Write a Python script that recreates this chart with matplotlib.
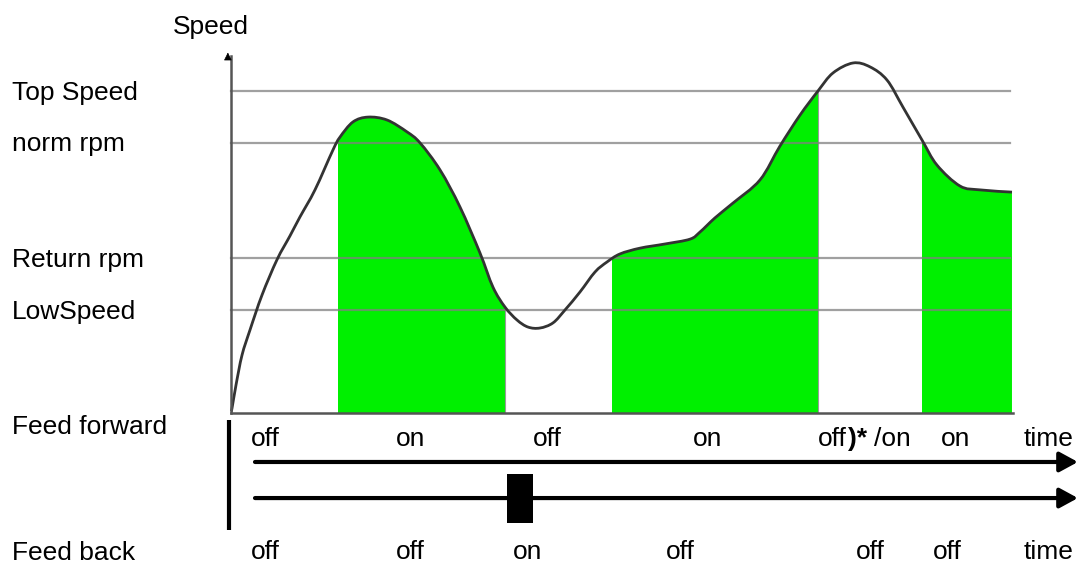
import numpy as np
import matplotlib
matplotlib.use("Agg")
import matplotlib.pyplot as plt
from matplotlib.patches import Rectangle, PathPatch
from matplotlib.path import Path

plt.rcParams['font.family'] = ['Liberation Sans', 'DejaVu Sans']

# speed levels (relative, Top Speed = 100)
level_names = ["Top Speed", "norm rpm", "Return rpm", "LowSpeed"]
level_values = [100.0, 83.9, 48.1, 32.0]

# speed curve (time 0..100)
curve_t = [0.0, 0.13, 0.64, 1.41, 2.43, 3.96, 5.88, 7.54, 8.82, 10.74, 13.04, 13.94,
           15.60, 17.52, 19.95, 22.51, 24.17, 26.73, 29.28, 31.84, 33.50, 35.04,
           36.57, 37.98, 39.51, 41.18, 42.71, 44.63, 46.55, 48.08, 49.74, 52.30,
           55.50, 58.70, 59.97, 61.89, 64.19, 67.65, 70.20, 72.76, 75.06, 76.98,
           79.54, 81.71, 83.89, 85.93, 88.36, 90.28, 93.22, 95.78, 99.87]
curve_v = [0.5, 1.5, 8.7, 18.0, 25.8, 36.6, 47.6, 55.0, 60.9, 69.3, 81.7, 85.7,
           90.4, 91.9, 91.0, 87.3, 83.9, 75.5, 64.0, 49.7, 39.1, 32.9,
           28.9, 26.7, 26.4, 28.0, 32.0, 37.6, 43.8, 46.9, 49.4, 51.2,
           52.5, 54.0, 56.2, 60.6, 65.2, 72.4, 82.9, 92.5, 100.0, 105.6,
           108.7, 107.5, 103.4, 95.0, 84.8, 77.0, 70.5, 69.3, 68.6]

# feed forward "on" intervals (green)
on_spans = [(13.7, 35.0), (48.7, 75.1), (88.4, 100.0)]

# state labels below the chart
ff_times = [4.35, 22.9, 40.5, 61.0, 92.6, 104.5]
ff_labels = ["off", "on", "off", "on", "on", "time"]
fb_times = [4.35, 22.9, 37.9, 57.4, 81.7, 91.6, 104.5]
fb_labels = ["off", "off", "on", "off", "off", "off", "time"]
fb_pulse = (35.3, 38.6)

fig = plt.figure(figsize=(10.8, 5.66), dpi=100)
ax = fig.add_axes([0, 0, 1, 1])
ax.set_xlim(-29.54, 108.57)
ax.set_ylim(-47.5, 128.26)
ax.axis('off')

# smooth path through the read points (Catmull-Rom as cubic Bezier segments)
pts = np.column_stack([curve_t, curve_v])
ext = np.vstack([pts[0], pts, pts[-1]])
verts = [tuple(pts[0])]
codes = [Path.MOVETO]
for i in range(1, len(ext) - 2):
    p0, p1, p2, p3 = ext[i - 1], ext[i], ext[i + 1], ext[i + 2]
    verts += [tuple(p1 + (p2 - p0) / 6), tuple(p2 - (p3 - p1) / 6), tuple(p2)]
    codes += [Path.CURVE4] * 3
curve_path = Path(verts, codes)

# area under the curve, clipped to the "on" spans
area_path = Path(verts + [(pts[-1][0], 0), (pts[0][0], 0), (pts[0][0], 0)],
                 codes + [Path.LINETO, Path.LINETO, Path.CLOSEPOLY])
for a, b in on_spans:
    patch = PathPatch(area_path, facecolor='#00f000', edgecolor='none', zorder=1)
    ax.add_patch(patch)
    clip = Rectangle((a, -1), b - a, 130, transform=ax.transData)
    patch.set_clip_path(clip)
    edge = ax.plot([b, b], [0, 120], color='#9a9a9a', lw=0.8, zorder=1.5)[0]
    edge.set_clip_path(PathPatch(area_path, transform=ax.transData))

# level lines and labels
for name, v in zip(level_names, level_values):
    ax.plot([0, 99.6], [v, v], color='#808080', lw=1.6, alpha=0.75, zorder=2)
    ax.text(-28.0, v - 0.5, name, fontsize=19, va='center', ha='left')

# curve
ax.add_patch(PathPatch(curve_path, facecolor='none', edgecolor='#333333', lw=2.0, zorder=3))

# axes
ax.plot([0, 0], [0, 111.0], color='#555555', lw=1.8, zorder=3)
ax.plot([0, 100], [0, 0], color='#555555', lw=1.8, zorder=3)
ax.annotate('', xy=(-0.4, 112.8), xytext=(-0.4, 109.5),
            arrowprops=dict(arrowstyle='-|>', color='black', lw=0.5,
                            mutation_scale=12))
ax.text(-7.5, 119.9, "Speed", fontsize=19, va='center', ha='left')

# feed section
ax.plot([-0.26, -0.26], [-2.2, -36.3], color='black', lw=3, solid_capstyle='butt')
for y in [-15.2, -26.4]:
    ax.annotate('', xy=(108.3, y), xytext=(3.07, y),
                arrowprops=dict(arrowstyle='-|>,head_length=0.55,head_width=0.3',
                                color='black', lw=3, shrinkA=0, shrinkB=0,
                                mutation_scale=20))
ax.add_patch(Rectangle((fb_pulse[0], -34.2), fb_pulse[1] - fb_pulse[0], 15.3,
                       color='black', lw=0, zorder=4))

ax.text(-28.0, -4.2, "Feed forward", fontsize=19, va='center', ha='left')
ax.text(-28.0, -43.6, "Feed back", fontsize=19, va='center', ha='left')

for t, s in zip(ff_times, ff_labels):
    ax.text(t, -8.1, s, fontsize=19, va='center', ha='center')
# mixed-weight label at the fourth switch
ax.text(75.1, -8.1, "off", fontsize=19, va='center', ha='left')
ax.text(78.9, -8.1, ")*", fontsize=19, va='center', ha='left', fontweight='bold')
ax.text(82.2, -8.1, "/on", fontsize=19, va='center', ha='left')

for t, s in zip(fb_times, fb_labels):
    ax.text(t, -43.2, s, fontsize=19, va='center', ha='center')

fig.savefig("out.png", dpi=100)
